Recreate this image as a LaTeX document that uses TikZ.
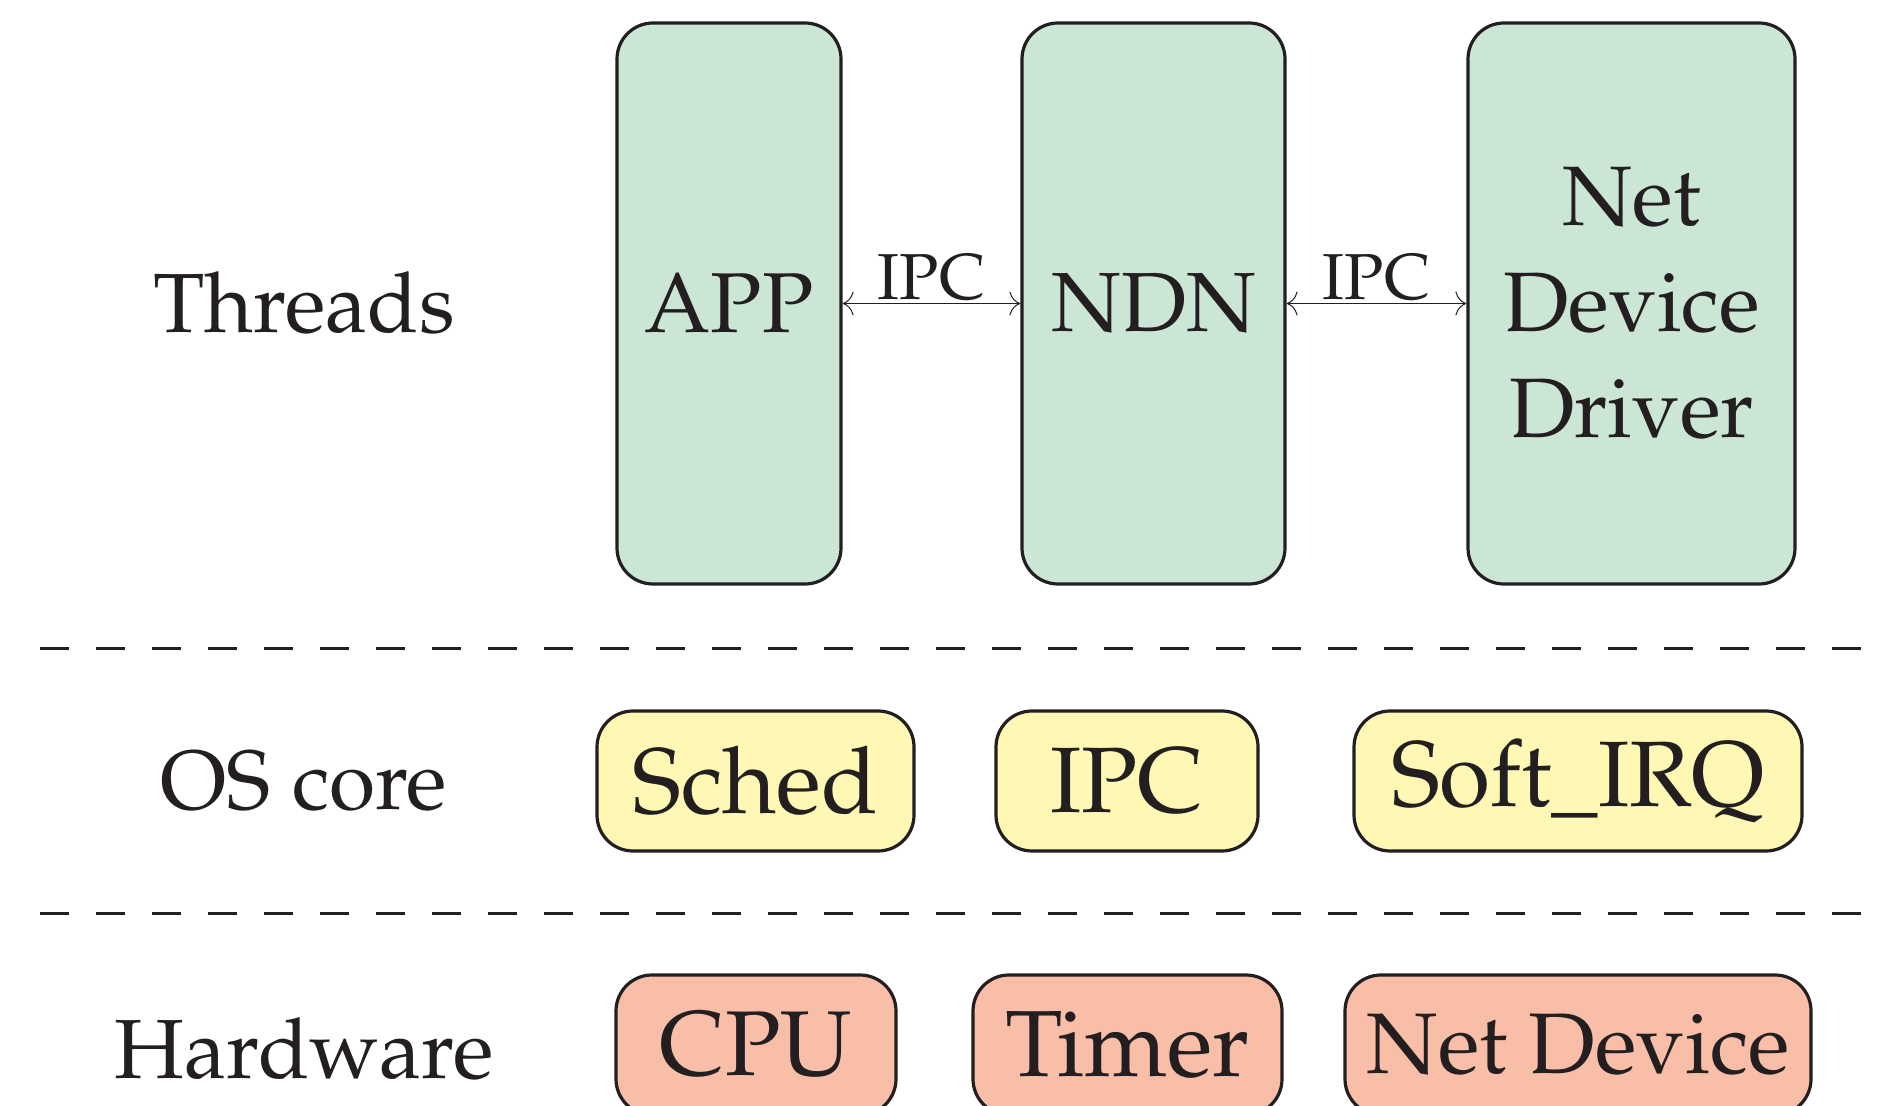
\documentclass[tikz,border=0pt]{standalone}
\usepackage[T1]{fontenc}
\usepackage{mathpazo}
\usetikzlibrary{arrows.meta}
\definecolor{ink}{RGB}{35,31,32}
\definecolor{thrfill}{RGB}{204,230,213}
\definecolor{osfill}{RGB}{255,248,180}
\definecolor{hwfill}{RGB}{249,190,168}
\tikzset{
  box/.style={draw=ink, line width=1.6pt, rounded corners=18pt, align=center, text=ink, inner sep=0pt},
  thr/.style={box, fill=thrfill, minimum height=280.5pt},
  osb/.style={box, fill=osfill, minimum height=70pt, font=\fontsize{46.5}{56}\selectfont},
  hwb/.style={box, fill=hwfill, minimum height=70pt, font=\fontsize{47}{56}\selectfont},
  lbl/.style={text=ink, font=\fontsize{42}{50}\selectfont},
  sep/.style={draw=ink, line width=1.5pt, dash pattern=on 14.5pt off 13.5pt},
  ipc/.style={draw=ink, line width=0.5pt, {To[length=5.5pt,width=12pt]}-{To[length=5.5pt,width=12pt]}},
}
\begin{document}
\begin{tikzpicture}[x=0.5pt,y=-0.5pt]
\useasboundingbox (0,0) rectangle (1879,1106);
\clip (0,0) rectangle (1879,1106);
% row labels
\node[lbl] (lthr) at (304,303) {Threads};
\node[lbl] (los) at (304,781) {OS core};
\node[lbl] (lhw) at (304,1049) {Hardware};
% threads
\node[thr, minimum width=112pt, font=\fontsize{42.5}{50}\selectfont] (app) at (729,303.5) {APP};
\node[thr, minimum width=131.5pt, font=\fontsize{42}{50}\selectfont] (ndn) at (1153.5,303.5) {NDN};
\node[thr, minimum width=163.5pt, font=\fontsize{42.2}{53}\selectfont] (ndd) at (1631.5,303.5) {Net\\Device\\Driver};
\draw[ipc] (app.east) -- node[above, inner sep=1pt, text=ink, font=\fontsize{32.5}{38}\selectfont] (ipc1) {IPC} (ndn.west);
\draw[ipc] (ndn.east) -- node[above, inner sep=1pt, text=ink, font=\fontsize{32.5}{38}\selectfont] (ipc2) {IPC} (ndd.west);
% separators
\coordinate (s1a) at (40,648);
\coordinate (s1b) at (1900,648);
\coordinate (s2a) at (40,913);
\coordinate (s2b) at (1900,913);
\draw[sep] (s1a) -- (s1b);
\draw[sep] (s2a) -- (s2b);
% OS core
\node[osb, minimum width=158.5pt] (sched) at (755.5,781) {Sched};
\node[osb, minimum width=131pt] (ipc) at (1127,781) {IPC};
\node[osb, minimum width=224pt] (soft) at (1578,781) {Soft\_IRQ};
% hardware
\node[hwb, minimum width=140pt, font=\fontsize{46}{55}\selectfont] (cpu) at (756,1045) {CPU};
\node[hwb, minimum width=154.5pt] (timer) at (1127.5,1045) {Timer};
\node[hwb, minimum width=233pt, font=\fontsize{43}{52}\selectfont] (netdev) at (1578,1045) {Net Device};
\end{tikzpicture}
\end{document}
